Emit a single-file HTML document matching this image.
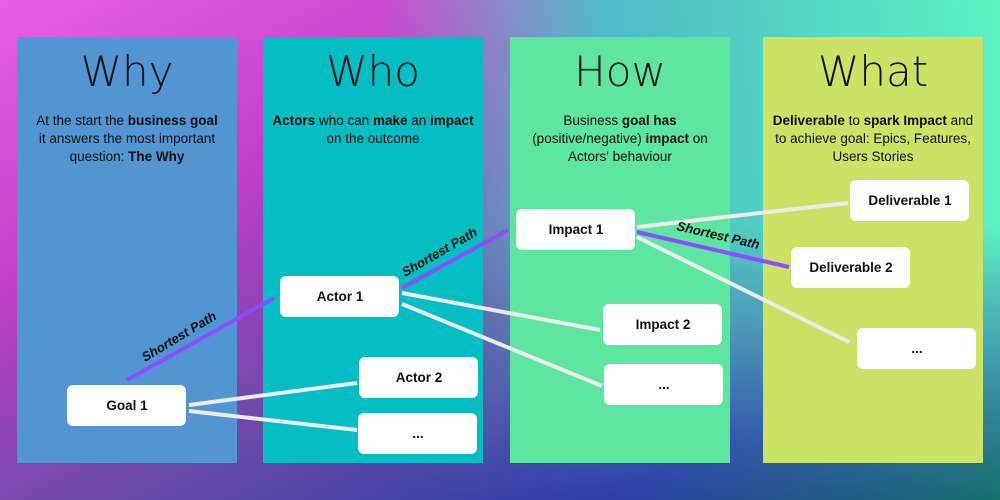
<!DOCTYPE html>
<html><head><meta charset="utf-8"><style>
html,body{margin:0;padding:0;width:1000px;height:500px;overflow:hidden;font-family:"Liberation Sans",sans-serif}
svg{display:block}
</style></head><body>
<svg width="1000" height="500" xmlns="http://www.w3.org/2000/svg" font-family="Liberation Sans, sans-serif">
<defs>
<linearGradient id="bg" x1="0" y1="0" x2="1" y2="1">
<stop offset="0" stop-color="#e85ee8"/>
<stop offset="0.3" stop-color="#c03fc8"/>
<stop offset="0.55" stop-color="#6a4aa8"/>
<stop offset="0.8" stop-color="#2f3fa8"/>
<stop offset="1" stop-color="#17706e"/>
</linearGradient>
<linearGradient id="bg2" x1="0" y1="0" x2="1" y2="0">
<stop offset="0.38" stop-color="#5ad6c8" stop-opacity="0"/>
<stop offset="0.6" stop-color="#45c8c8" stop-opacity="0.9"/>
<stop offset="1" stop-color="#5cf2c0" stop-opacity="1"/>
</linearGradient>
<linearGradient id="fade" x1="0" y1="0" x2="0" y2="1">
<stop offset="0" stop-color="#fff"/>
<stop offset="0.45" stop-color="#fff"/>
<stop offset="0.9" stop-color="#fff" stop-opacity="0.15"/>
<stop offset="1" stop-color="#fff" stop-opacity="0"/>
</linearGradient>
<mask id="m"><rect width="1000" height="500" fill="url(#fade)"/></mask>
</defs>
<rect width="1000" height="500" fill="url(#bg)"/>
<rect width="1000" height="500" fill="url(#bg2)" mask="url(#m)"/>
<rect x="17" y="37" width="220" height="426" fill="#5195d3"/>
<rect x="263" y="37" width="220" height="426" fill="#04bec4"/>
<rect x="510" y="37" width="220" height="426" fill="#5de6a0"/>
<rect x="763" y="37" width="220" height="426" fill="#cbe265"/>
<g font-family="DejaVu Sans, Liberation Sans, sans-serif" font-size="42" font-weight="200" text-anchor="middle" fill="#111">
<text x="127" y="86">Why</text><text x="373" y="86">Who</text><text x="620" y="86">How</text><text x="873" y="86">What</text>
</g>
<g font-size="13.5" text-anchor="middle" fill="#111">
<text x="127" y="125">At the start the <tspan font-weight="bold">business goal</tspan></text>
<text x="127" y="143">it answers the most important</text>
<text x="127" y="161">question: <tspan font-weight="bold">The Why</tspan></text>
<text x="373" y="125"><tspan font-weight="bold">Actors</tspan> who can <tspan font-weight="bold">make</tspan> an <tspan font-weight="bold">impact</tspan></text>
<text x="373" y="143">on the outcome</text>
<text x="620" y="125">Business <tspan font-weight="bold">goal has</tspan></text>
<text x="620" y="143">(positive/negative) <tspan font-weight="bold">impact</tspan> on</text>
<text x="620" y="161">Actors' behaviour</text>
<text x="873" y="125"><tspan font-weight="bold">Deliverable</tspan> to <tspan font-weight="bold">spark Impact</tspan> and</text>
<text x="873" y="143">to achieve goal: Epics, Features,</text>
<text x="873" y="161">Users Stories</text>
</g>
<g stroke="#ececec" stroke-width="4">
<line x1="189" y1="405" x2="357" y2="383"/><line x1="189" y1="411" x2="357" y2="430"/>
<line x1="402" y1="293" x2="600" y2="330"/><line x1="402" y1="304" x2="602" y2="386"/>
<line x1="637" y1="227" x2="848" y2="203"/><line x1="637" y1="237" x2="849" y2="342"/>
</g>
<g stroke="#8c4dff" stroke-width="4">
<line x1="127" y1="380" x2="274" y2="298"/><line x1="402" y1="288" x2="508" y2="230"/><line x1="637" y1="232" x2="789" y2="267"/>
</g>
<g font-size="13" font-weight="bold" font-style="italic" fill="#111">
<text transform="translate(145,362) rotate(-31)">Shortest Path</text>
<text transform="translate(405,277) rotate(-30)">Shortest Path</text>
<text transform="translate(676,230) rotate(13)">Shortest Path</text>
</g>
<g fill="#fff">
<rect x="67" y="385" width="119" height="41" rx="6"/>
<rect x="280" y="276" width="119" height="41" rx="6"/>
<rect x="359" y="357" width="119" height="41" rx="6"/>
<rect x="358" y="413" width="119" height="41" rx="6"/>
<rect x="516" y="209" width="119" height="41" rx="6"/>
<rect x="603" y="304" width="119" height="41" rx="6"/>
<rect x="604" y="364" width="119" height="41" rx="6"/>
<rect x="850" y="180" width="119" height="41" rx="6"/>
<rect x="791" y="247" width="119" height="41" rx="6"/>
<rect x="857" y="328" width="119" height="41" rx="6"/>
</g>
<g font-size="13.5" font-weight="bold" text-anchor="middle" fill="#111">
<text x="127" y="410">Goal 1</text>
<text x="340" y="301">Actor 1</text>
<text x="419" y="382">Actor 2</text>
<text x="418" y="438">...</text>
<text x="576" y="234">Impact 1</text>
<text x="663" y="329">Impact 2</text>
<text x="664" y="389">...</text>
<text x="910" y="205">Deliverable 1</text>
<text x="851" y="272">Deliverable 2</text>
<text x="917" y="353">...</text>
</g>
</svg>
</body></html>
